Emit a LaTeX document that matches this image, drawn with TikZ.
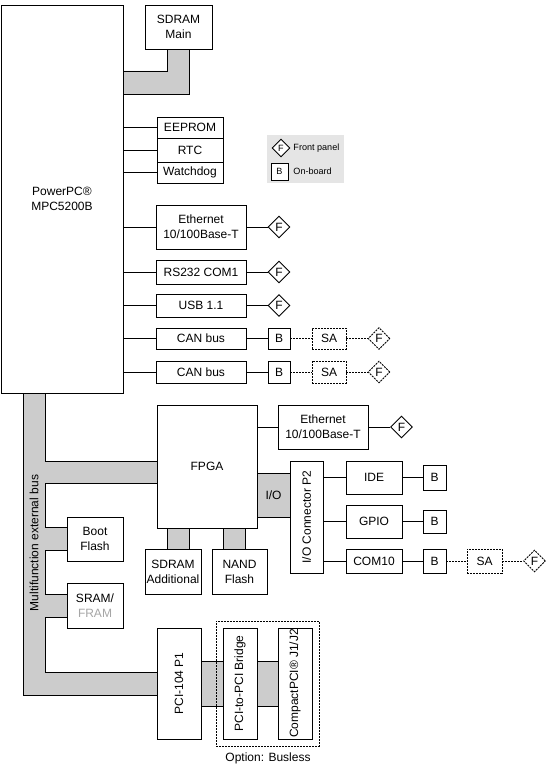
\documentclass[tikz,border=0pt]{standalone}
\usepackage{fontspec}
\setmainfont{Liberation Sans}
\usetikzlibrary{shapes.geometric}

\begin{document}
\begin{tikzpicture}[x=0.75pt, y=-0.75pt, line width=0.7pt,
    font=\fontsize{9pt}{11.2pt}\selectfont,
    sz/.style 2 args={minimum width=#1*0.75pt, minimum height=#2*0.75pt},
    box/.style={draw, fill=white, inner sep=0pt, align=center},
    opt/.style={dash pattern=on 1.5pt off 0.75pt},
    optbox/.style={box, opt},
    fp/.style={draw, fill=white, diamond, aspect=1, inner sep=0pt, minimum size=22*0.75pt},
    optfp/.style={fp, opt},
    bus/.style={draw, fill=black!20},
    small/.style={font=\fontsize{6.8pt}{8pt}\selectfont}]
  \useasboundingbox (0,0) rectangle (550,767);

  % buses
  \draw[bus] (123,71) -- (167,71) -- (167,49) -- (189,49) -- (189,94) -- (123,94) -- cycle;
  \draw[bus] (23,393) -- (23,695) -- (157,695) -- (157,672) -- (45,672) -- (45,617) -- (67,617)
    -- (67,594) -- (45,594) -- (45,550) -- (67,550) -- (67,527) -- (45,527) -- (45,483)
    -- (157,483) -- (157,461) -- (45,461) -- (45,393) -- cycle;
  \draw[bus] (167,528) rectangle (189,549);
  \draw[bus] (223,528) rectangle (245,549);
  \draw[bus] (201,661) rectangle (223,706);
  \draw[bus] (257,661) rectangle (278,706);
  \node[rotate=90] (buslabel) at (34,543) {Multifunction external bus};

  % processor and memory
  \node[box, sz={122}{388}] (cpu) at (62,199) {PowerPC®\\MPC5200B};
  \node[box, sz={67}{44}] (sdram) at (178.5,27) {SDRAM\\Main};
  \node[box, sz={66}{21}] (eeprom) at (190,127.5) {EEPROM};
  \node[box, sz={66}{24}] (rtc) at (190,150) {RTC};
  \node[box, sz={66}{21}] (wdog) at (190,172.5) {Watchdog};

  % legend
  \node[fill=black!10, sz={77}{48}] (legend) at (305.5,159) {};
  \node[fp, small, minimum size=18*0.75pt] (legf) at (281,148) {F};
  \node[box, small, sz={17}{17}] (legb) at (279.5,171.5) {B};
  \node[small, anchor=west, inner sep=0pt] (legftext) at (293,148) {Front panel};
  \node[small, anchor=west, inner sep=0pt] (legbtext) at (293,171.5) {On-board};

  % interfaces of the processor
  \node[box, sz={90}{44}] (eth1) at (201,227) {Ethernet\\10/100Base-T};
  \node[box, sz={90}{24}] (rs232) at (201,272) {RS232 COM1};
  \node[box, sz={90}{23}] (usb) at (201,305.5) {USB 1.1};
  \node[box, sz={90}{21}] (can1) at (201,338.5) {CAN bus};
  \node[box, sz={90}{22}] (can2) at (201,372) {CAN bus};
  \foreach \n in {eeprom, rtc, wdog, eth1, rs232, usb, can1, can2}
    \draw (cpu.east |- \n.west) -- (\n.west);

  \node[fp] (f1) at (279,227) {F};
  \node[fp] (f2) at (279,272) {F};
  \node[fp] (f3) at (279,305.5) {F};
  \draw (eth1) -- (f1);
  \draw (rs232) -- (f2);
  \draw (usb) -- (f3);

  \node[box, sz={22}{21}] (b1) at (279,338.5) {B};
  \node[optbox, sz={34}{21}] (sa1) at (329,338.5) {SA};
  \node[optfp] (f4) at (379,338.5) {F};
  \node[box, sz={22}{22}] (b2) at (279,372) {B};
  \node[optbox, sz={34}{22}] (sa2) at (329,372) {SA};
  \node[optfp] (f5) at (379,372) {F};
  \draw (can1) -- (b1);
  \draw[opt] (b1) -- (sa1) -- (f4);
  \draw (can2) -- (b2);
  \draw[opt] (b2) -- (sa2) -- (f5);

  % FPGA
  \node[box, sz={100}{123}] (fpga) at (207,466.5) {FPGA};
  \node[box, sz={90}{44}] (eth2) at (323,427) {Ethernet\\10/100Base-T};
  \node[fp] (f6) at (401.5,427) {F};
  \draw (fpga.east |- eth2.west) -- (eth2.west);
  \draw (eth2) -- (f6);
  \node[bus, inner sep=0pt, sz={33}{44}] (io) at (273.5,495) {I/O};
  \node[box, sz={33}{112}, label={[rotate=90]center:I/O Connector P2}] (ioconn) at (306.5,517) {};

  \node[box, sz={56}{33}] (ide) at (374,477.5) {IDE};
  \node[box, sz={56}{33}] (gpio) at (374,521.5) {GPIO};
  \node[box, sz={56}{24}] (com10) at (374,561) {COM10};
  \foreach \n in {ide, gpio, com10}
    \draw (ioconn.east |- \n.west) -- (\n.west);
  \node[box, sz={23}{25}] (b3) at (434.5,477.5) {B};
  \node[box, sz={23}{23}] (b4) at (434.5,521.5) {B};
  \node[box, sz={23}{24}] (b5) at (434.5,561) {B};
  \node[optbox, sz={35}{24}] (sa3) at (484.5,561) {SA};
  \node[optfp] (f7) at (534.5,561) {F};
  \draw (ide) -- (b3);
  \draw (gpio) -- (b4);
  \draw (com10) -- (b5);
  \draw[opt] (b5) -- (sa3) -- (f7);

  % local bus devices
  \node[box, sz={56}{44}] (boot) at (95,539) {Boot\\Flash};
  \node[box, sz={56}{45}] (sram) at (95,605.5) {SRAM/\\\textcolor{black!35}{FRAM}};
  \node[box, sz={56}{45}] (sdramadd) at (173,571.5) {SDRAM\\Additional};
  \node[box, sz={55}{45}] (nand) at (239.5,571.5) {NAND\\Flash};

  % PCI
  \node[draw, opt, sz={103}{125}] (busless) at (267.5,683.5) {};
  \node[box, sz={44}{111}, label={[rotate=90]center:PCI-104 P1}] (pci) at (179,683.5) {};
  \node[box, sz={34}{111}, label={[rotate=90]center:PCI-to-PCI Bridge}] (bridge) at (240,683.5) {};
  \node[box, sz={34}{111}, label={[rotate=90]center:CompactPCI® J1/J2}] (cpci) at (295,683.5) {};
  \node (optlabel) at (268,758) {Option: Busless};
\end{tikzpicture}
\end{document}
